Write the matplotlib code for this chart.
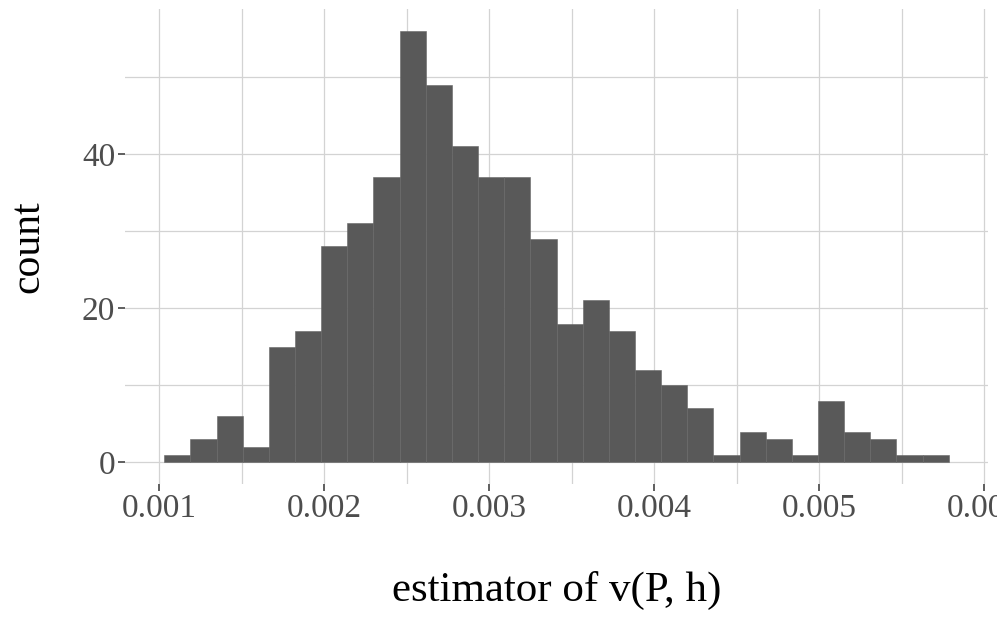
import numpy as np
import matplotlib
matplotlib.use('Agg')
import matplotlib.pyplot as plt

#===============================================================================
# histogram counts, 30 bins
counts = [1, 3, 6, 2, 15, 17, 28, 31, 37, 56,
          49, 41, 37, 37, 29, 18, 21, 17, 12, 10,
          7, 1, 4, 3, 1, 8, 4, 3, 1, 1]
bin_lo = 0.001032
bin_hi = 0.005784
x_major = [0.001, 0.002, 0.003, 0.004, 0.005, 0.006]
x_minor = [0.0015, 0.0025, 0.0035, 0.0045, 0.0055]
y_major = [0, 20, 40]
y_minor = [10, 30, 50]
#===============================================================================
plt.rcParams['font.family'] = ['Liberation Serif', 'DejaVu Serif']

edges = np.linspace(bin_lo, bin_hi, len(counts) + 1)
width = edges[1] - edges[0]

fig = plt.figure(figsize=(9.97, 6.23), dpi=100)
ax = fig.add_axes([0.1254, 0.2231, 0.991 - 0.1254, 0.9856 - 0.2231])

ax.bar(edges[:-1], counts, width=width, align='edge',
       color='#595959', edgecolor='#666666', linewidth=0.4, zorder=3)

span = bin_hi - bin_lo
ax.set_xlim(bin_lo - 0.05 * span, bin_hi + 0.05 * span)
ax.set_ylim(-0.05 * max(counts), 1.05 * max(counts))

ax.set_xticks(x_major)
ax.set_xticks(x_minor, minor=True)
ax.set_yticks(y_major)
ax.set_yticks(y_minor, minor=True)
ax.set_xticklabels([str(v) for v in x_major])
ax.set_yticklabels([str(v) for v in y_major])

ax.grid(True, which='both', color='#d3d3d3', linewidth=0.9, zorder=0)
for s in ax.spines.values():
    s.set_visible(False)

ax.tick_params(axis='both', which='major', length=5, width=1.1,
               color='#333333', labelcolor='#4d4d4d', labelsize=24, pad=2)
ax.tick_params(axis='both', which='minor', length=0)

ax.set_xlabel('estimator of v(P, h)', fontsize=31, labelpad=34)
ax.set_ylabel('count', fontsize=30, labelpad=25)

fig.savefig('out.png', dpi=100)
